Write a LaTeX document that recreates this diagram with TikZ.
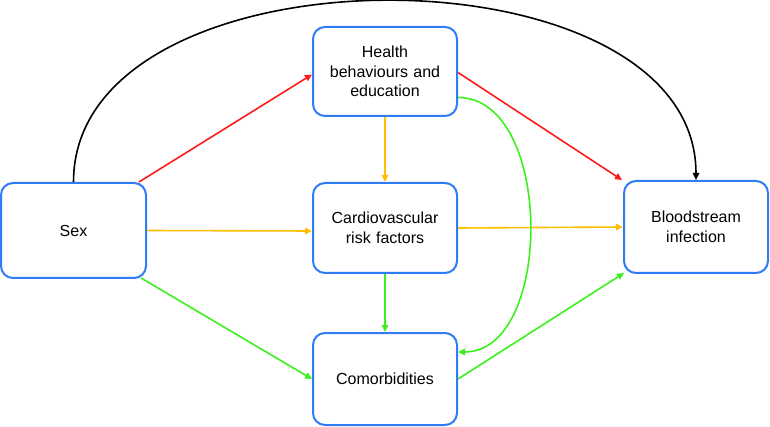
\documentclass[tikz,border=0pt]{standalone}
\usepackage{fontspec}
\setmainfont{Liberation Sans}
\usetikzlibrary{arrows.meta}
\definecolor{boxblue}{HTML}{2F7CF6}
\definecolor{cred}{HTML}{FF1A1A}
\definecolor{corange}{HTML}{FFBF00}
\definecolor{cgreen}{HTML}{3CF01E}
\begin{document}
\begin{tikzpicture}[x=1pt,y=1pt,
  box/.style={draw=boxblue,line width=2pt,rounded corners=12pt,fill=white,
    minimum width=144pt,minimum height=90pt,align=center,text width=130pt,
    font=\fontsize{16}{19.5}\selectfont,inner sep=0pt},
  conn/.style={line width=1.6pt,-{Triangle[length=7pt,width=6.5pt]}}]
\useasboundingbox (0,0) rectangle (770,-427);
\node[box,minimum width=145pt,minimum height=95pt] (sex) at (73.5,-230.5) {Sex};
\node[box,minimum height=89pt] (health) at (385,-71.5) {Health\\behaviours and\\education};
\node[box] (cardio) at (385,-228) {Cardiovascular\\risk factors};
\node[box,minimum height=92pt] (comorb) at (385,-379) {Comorbidities};
\node[box,minimum height=92pt] (blood) at (696,-227) {Bloodstream\\infection};
% black curve
\draw[conn,black] (sex.north) .. controls +(0,241) and +(0,239) .. (blood.north);
% red
\draw[conn,cred] ([xshift=-8pt]sex.north east) -- ([yshift=-3pt]health.west);
\draw[conn,cred] ([yshift=-1pt]health.east) -- ([xshift=-1pt]blood.north west);
% orange
\draw[conn,corange] (sex.east) -- ([yshift=-3pt]cardio.west);
\draw[conn,corange] (health.south) -- (cardio.north);
\draw[conn,corange] (cardio.east) -- (blood.west);
% green
\draw[conn,cgreen] ([xshift=-6pt,yshift=1pt]sex.south east) -- (comorb.west);
\draw[conn,cgreen] (cardio.south) -- (comorb.north);
\draw[conn,cgreen] (comorb.east) -- ([xshift=1pt,yshift=1pt]blood.south west);
\draw[conn,cgreen] ([yshift=-26pt]health.east) .. controls +(96,0) and +(96,0) .. ([yshift=27pt]comorb.east);
\end{tikzpicture}
\end{document}
